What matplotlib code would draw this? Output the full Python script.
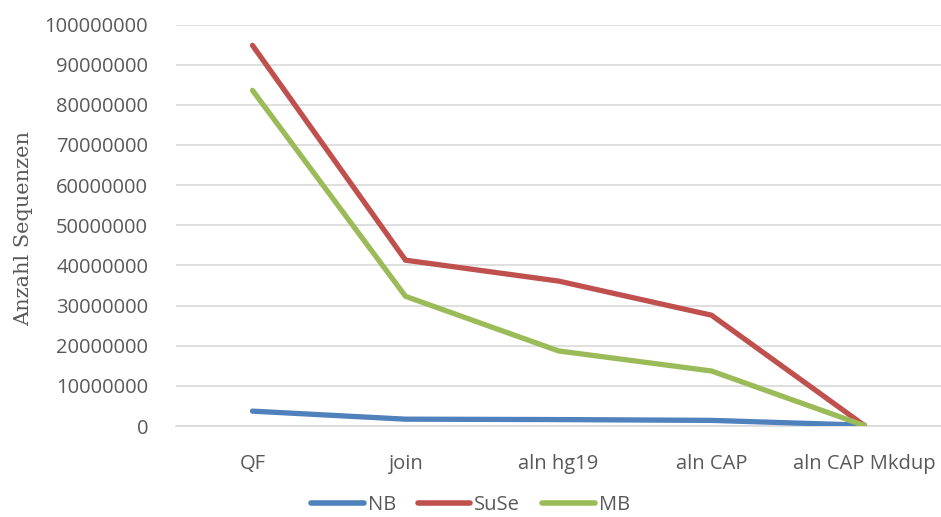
import matplotlib.pyplot as plt
from matplotlib.ticker import MultipleLocator, FuncFormatter

# Sequence counts per processing step
steps = ['QF', 'join', 'aln hg19', 'aln CAP', 'aln CAP Mkdup']
nb = [3700000, 1700000, 1600000, 1400000, 200000]
suse = [94800000, 41300000, 36100000, 27600000, 100000]
mb = [83600000, 32300000, 18700000, 13700000, 100000]

series_names = ['NB', 'SuSe', 'MB']
colors = ['#4F81BD', '#C0504D', '#9BBB59']

TEXT_GRAY = '#595959'
GRID_GRAY = '#D9D9D9'
plt.rcParams['font.family'] = ['Open Sans', 'DejaVu Sans']

fig = plt.figure(figsize=(9.41, 5.17), dpi=100)
ax = fig.add_axes([176 / 941, 1 - 426 / 517, 1 - 176 / 941, (426 - 24.5) / 517])

x = range(len(steps))
for vals, name, color in zip([nb, suse, mb], series_names, colors):
    ax.plot(x, vals, color=color, lw=3.8, label=name,
            solid_capstyle='round', solid_joinstyle='round', zorder=3)

ax.set_xlim(-0.5, len(steps) - 0.5)
ax.set_ylim(0, 100000000)
ax.yaxis.set_major_locator(MultipleLocator(10000000))
ax.yaxis.set_major_formatter(FuncFormatter(lambda v, p: f'{int(v)}'))
ax.set_xticks(list(x))
ax.set_xticklabels(steps)

ax.grid(axis='y', color=GRID_GRAY, lw=1.2, zorder=0)
for side in ['top', 'right', 'left']:
    ax.spines[side].set_visible(False)
ax.spines['bottom'].set_color(GRID_GRAY)
ax.spines['bottom'].set_linewidth(1.2)
ax.tick_params(axis='both', length=0, labelsize=14.5, colors=TEXT_GRAY)
ax.tick_params(axis='y', pad=20)
ax.tick_params(axis='x', pad=20)

# serif axis title, placed in figure coordinates
ax.set_ylabel('Anzahl Sequenzen', family='DejaVu Serif', fontsize=15, color=TEXT_GRAY)
ax.yaxis.set_label_coords(33 / 941, 1 - 229 / 517, transform=fig.transFigure)

leg = fig.legend(loc='center', bbox_to_anchor=(0.5, 0.024), ncol=3, frameon=False,
                 fontsize=14.5, handlelength=2.6, handletextpad=0.2, columnspacing=1.1)
for line in leg.get_lines():
    line.set_linewidth(4)
    line.set_solid_capstyle('round')
for t in leg.get_texts():
    t.set_color(TEXT_GRAY)

fig.savefig('out.png', dpi=100)
